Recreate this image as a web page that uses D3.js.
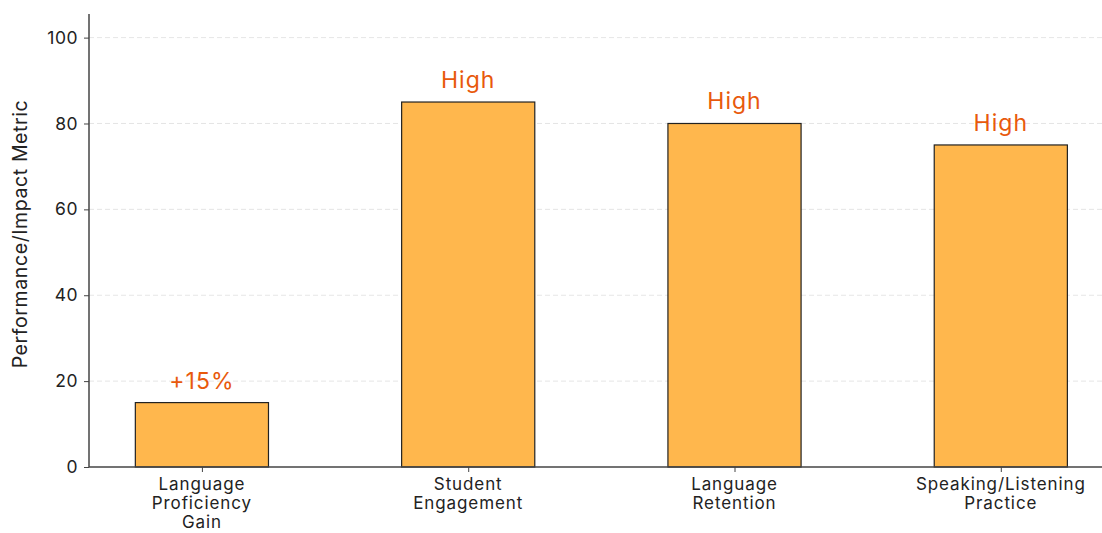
<!doctype html>
<html>
<head>
<meta charset="utf-8">
<script src="https://d3js.org/d3.v7.min.js"></script>
<style>
  body { margin: 0; background: #fff; }
  svg text { font-family: Inter, "Open Sans", sans-serif; }
</style>
</head>
<body>
<svg width="1102" height="533"></svg>
<script>
// chart data
const categories = [["Language", "Proficiency", "Gain"], ["Student", "Engagement"], ["Language", "Retention"], ["Speaking/Listening", "Practice"]];
const values = [15, 85, 80, 75];
const annotations = ["+15%", "High", "High", "High"];
const yTicks = [0, 20, 40, 60, 80, 100];

const svg = d3.select("svg");
const plotLeft = 89, plotBottom = 467, plotTop = 14, plotRight = 1102;

const y = d3.scaleLinear().domain([0, 105.5]).range([plotBottom, plotTop]);
// bar centres: index -0.424 .. 3.38 across the plot
const x = d3.scaleLinear().domain([-0.424, 3.38]).range([plotLeft, plotRight]);
const barW = x(0.5) - x(0);

// grid
svg.append("g").selectAll("line").data(yTicks.filter(d => d > 0)).enter().append("line")
  .attr("x1", plotLeft).attr("x2", plotRight)
  .attr("y1", d => y(d)).attr("y2", d => y(d))
  .attr("stroke", "#dedede").attr("stroke-width", 0.8).attr("stroke-dasharray", "5,3");

// bars
svg.append("g").selectAll("rect").data(values).enter().append("rect")
  .attr("x", (d, i) => x(i) - barW / 2)
  .attr("y", d => y(d))
  .attr("width", barW)
  .attr("height", d => y(0) - y(d))
  .attr("fill", "#FFB74D").attr("stroke", "#222").attr("stroke-width", 1.2);

// annotations
svg.append("g").selectAll("text").data(values).enter().append("text")
  .attr("x", (d, i) => x(i))
  .attr("y", d => y(d) - 14)
  .attr("text-anchor", "middle")
  .attr("fill", "#E8590C").attr("font-size", 23).attr("letter-spacing", 1)
  .text((d, i) => annotations[i]);

// y axis
const yAxis = svg.append("g").attr("transform", `translate(${plotLeft},0)`)
  .call(d3.axisLeft(y).tickValues(yTicks).tickSize(5).tickPadding(6));
yAxis.select(".domain").attr("d", `M0,${plotTop}V${plotBottom}`).attr("stroke", "#444").attr("stroke-width", 1.5);
yAxis.selectAll(".tick line").attr("stroke", "#444");
yAxis.selectAll("text").attr("font-size", 17.5).attr("fill", "#222").attr("letter-spacing", 0.5);

// x axis
const xAxis = svg.append("g").attr("transform", `translate(0,${plotBottom})`)
  .call(d3.axisBottom(x).tickValues([0, 1, 2, 3]).tickSize(5).tickFormat(""));
xAxis.select(".domain").attr("d", `M${plotLeft},0H${plotRight}`).attr("stroke", "#444").attr("stroke-width", 1.5);
xAxis.selectAll(".tick line").attr("stroke", "#444");

const xl = svg.append("g").selectAll("text").data(categories).enter().append("text")
  .attr("text-anchor", "middle").attr("font-size", 17).attr("fill", "#222").attr("letter-spacing", 0.9)
  .attr("x", (d, i) => x(i)).attr("y", plotBottom + 23);
xl.selectAll("tspan").data(d => d).enter().append("tspan")
  .attr("x", function () { return d3.select(this.parentNode).attr("x"); })
  .attr("dy", (d, i) => i === 0 ? 0 : 19)
  .text(d => d);

// y label
svg.append("text")
  .attr("transform", `translate(27,234) rotate(-90)`)
  .attr("text-anchor", "middle").attr("font-size", 19.5).attr("fill", "#222").attr("letter-spacing", 0.6)
  .text("Performance/Impact Metric");
</script>
</body>
</html>
